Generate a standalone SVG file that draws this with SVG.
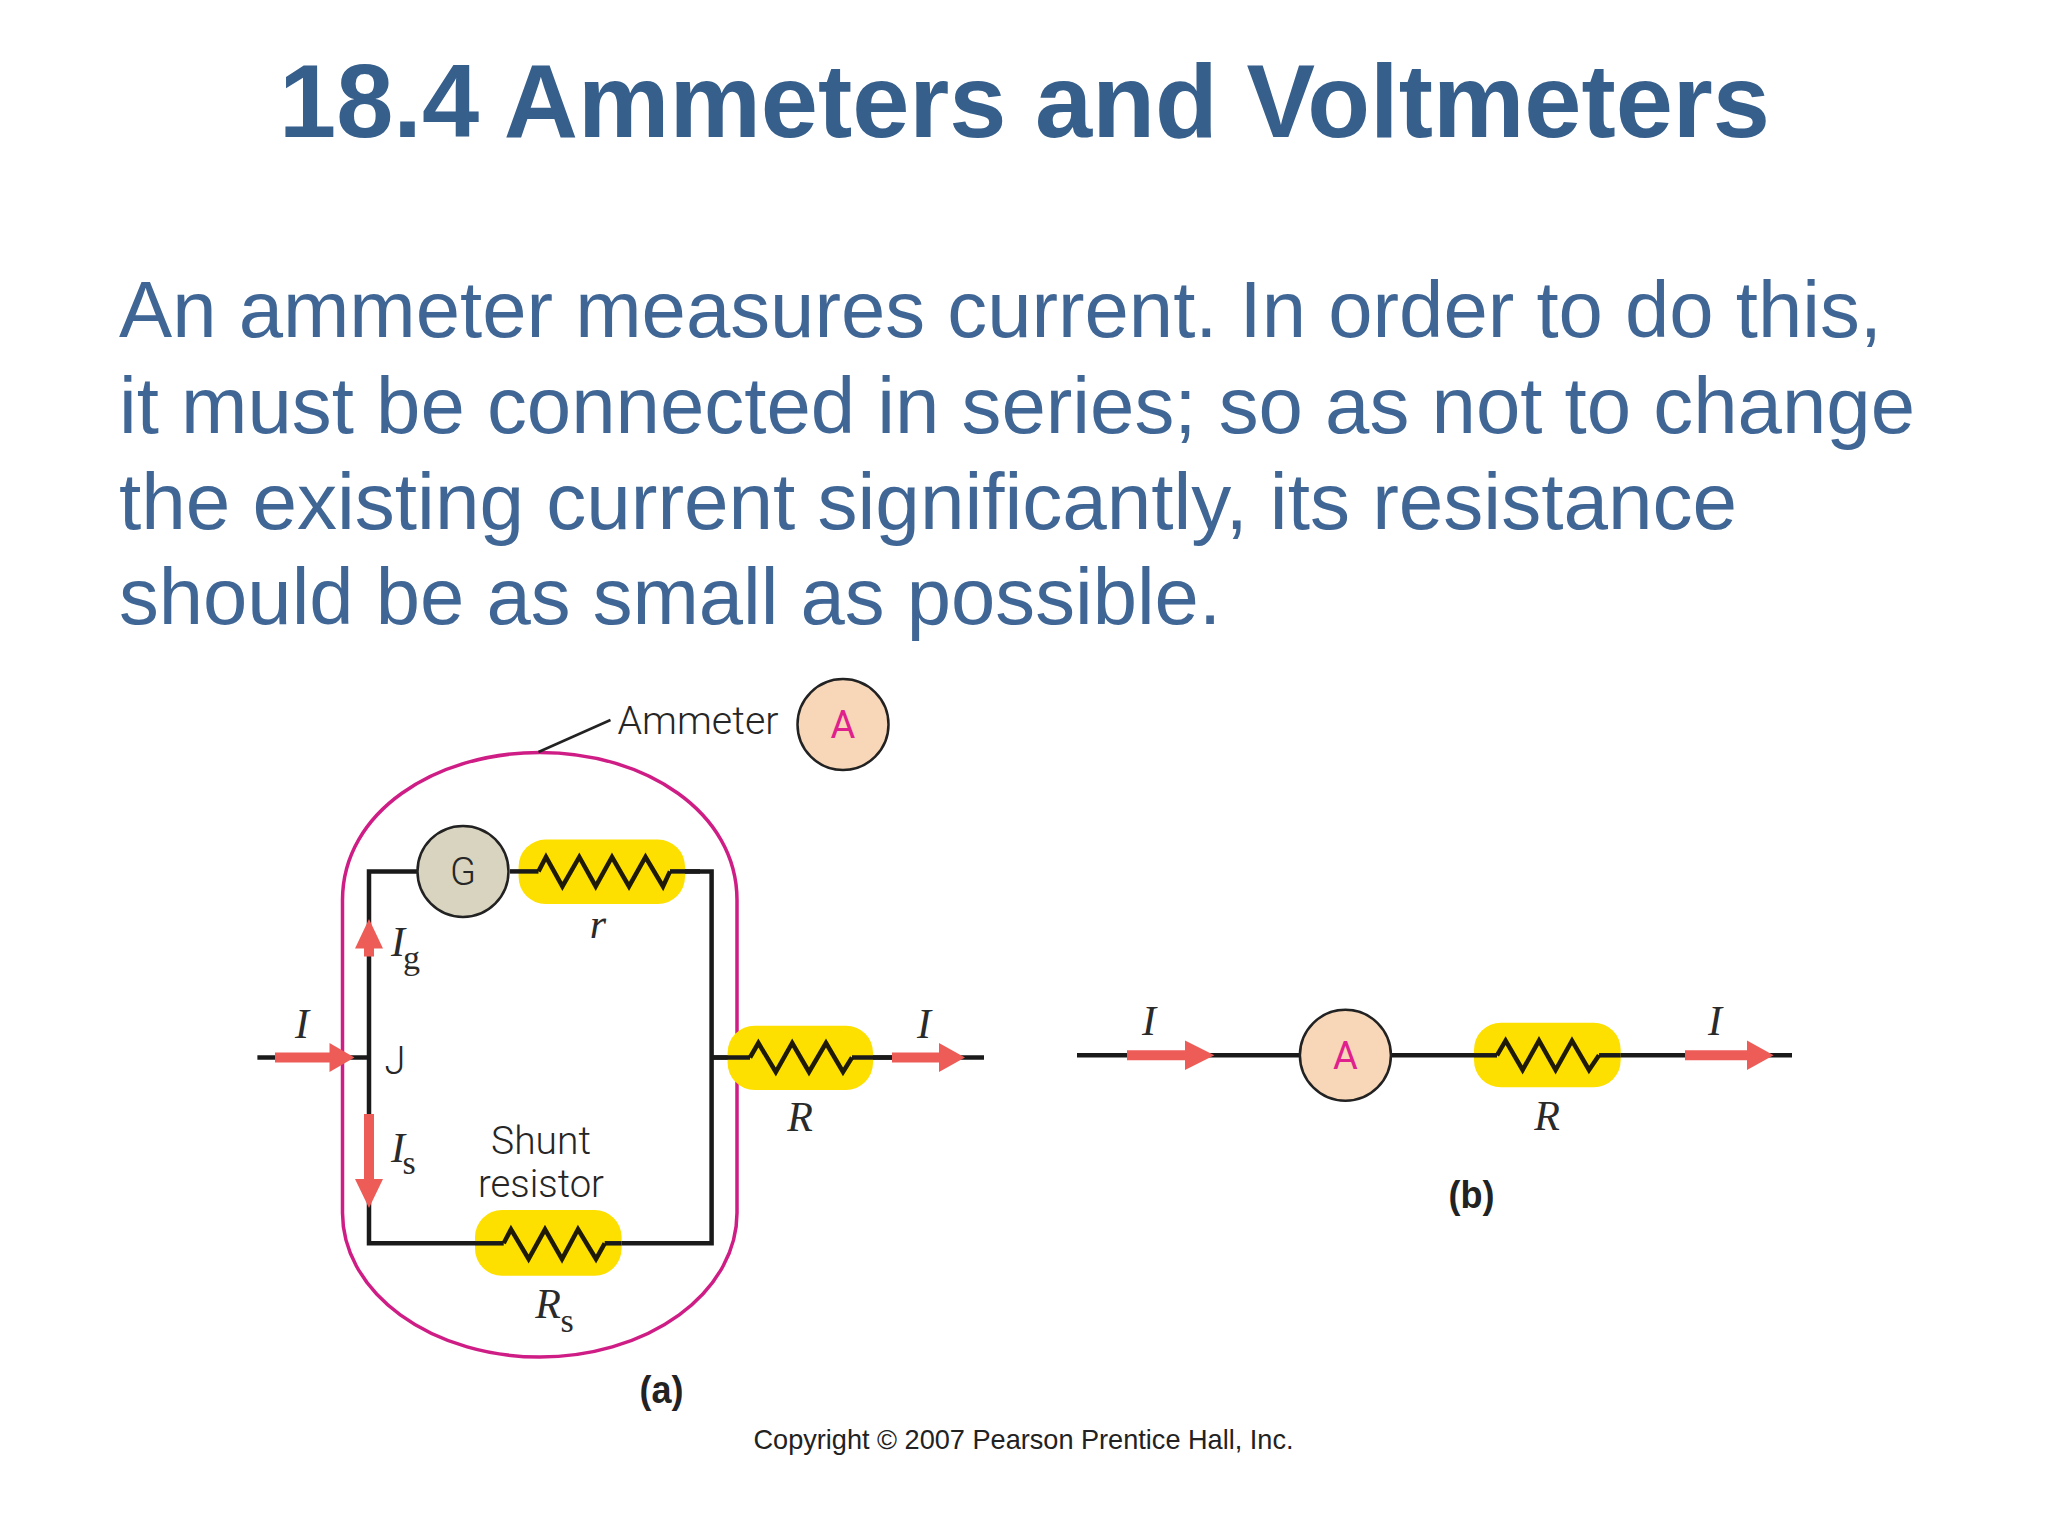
<svg xmlns="http://www.w3.org/2000/svg" width="2048" height="1536" viewBox="0 0 2048 1536">
<style>
.title{font:bold 103px "Liberation Sans",Arial,sans-serif;fill:#365f8c}
.body{font:80px "Liberation Sans",Arial,sans-serif;fill:#3f6695}
.wire{fill:none;stroke:#1a1a1a;stroke-width:4.5;stroke-linejoin:miter}
.zig{fill:none;stroke:#1f1a05;stroke-width:4.5;stroke-linejoin:miter}
.res{fill:#fddf00}
.outline{fill:none;stroke:#cf1d86;stroke-width:3.5}
.meter{stroke:#222;stroke-width:2.5}
.arrow{fill:#ee5c58}
.sans{font-family:Roboto,"Liberation Sans",Arial,sans-serif;font-weight:300;font-size:38px;fill:#262626;text-anchor:middle}
.pink{font-family:Roboto,"Liberation Sans",Arial,sans-serif;font-weight:400;font-size:38px;fill:#e0208c;text-anchor:middle}
.it{font-family:"Liberation Serif","Times New Roman",serif;font-style:italic;font-size:42px;fill:#2a2a2a;text-anchor:middle}
.sub{font-family:"Liberation Serif","Times New Roman",serif;font-size:34px;fill:#2a2a2a;text-anchor:middle}
.cap{font-family:"Liberation Sans",Arial,sans-serif;font-weight:bold;font-size:38px;fill:#222;text-anchor:middle}
.copy{font-family:"Liberation Sans",Arial,sans-serif;font-size:28px;fill:#222}
</style>
<rect width="2048" height="1536" fill="#fff"/>
<g id="heading">
<text class="title" x="279" y="137" textLength="1491" lengthAdjust="spacingAndGlyphs">18.4 Ammeters and Voltmeters</text>
<text class="body" x="119" y="337" textLength="1763" lengthAdjust="spacingAndGlyphs">An ammeter measures current. In order to do this,</text>
<text class="body" x="119" y="432.5" textLength="1796" lengthAdjust="spacingAndGlyphs">it must be connected in series; so as not to change</text>
<text class="body" x="119" y="529" textLength="1618" lengthAdjust="spacingAndGlyphs">the existing current significantly, its resistance</text>
<text class="body" x="119" y="624" textLength="1102" lengthAdjust="spacingAndGlyphs">should be as small as possible.</text>
</g>
<g id="ammeter-boundary">
<path class="outline" d="M342.5,900 C342.5,812 435,752.5 540,752.5 C645,752.5 737,812 737,900 V1213 A197.25,144 0 0 1 342.5,1213 Z"/>
<path d="M538.5,752 L610.5,720" fill="none" stroke="#222" stroke-width="2.5"/>
<text class="sans" x="698" y="734" textLength="161" lengthAdjust="spacingAndGlyphs">Ammeter</text>
</g>
<g id="connectors">
<path class="wire" d="M440,871.4 H369 V1243.3 H711.6 V871.4 H640"/>
<path class="wire" d="M257.4,1057.5 H369"/>
<path class="wire" d="M711.6,1057.5 H984"/>
<path class="wire" d="M1077,1055.3 H1792"/>
</g>
<g id="a-legend-meter">
<circle class="meter" cx="843" cy="724.5" r="45.5" fill="#f8d7b8"/>
<text class="pink" x="843" y="738">A</text>
</g>
<g id="galvanometer">
<circle class="meter" cx="463" cy="871.4" r="45.5" fill="#d8d4bf"/>
<text class="sans" x="463" y="884.5">G</text>
</g>
<g id="resistor-r">
<rect class="res" x="518.6" y="839.6" width="166.4" height="64.4" rx="27"/>
<path class="wire" d="M510,871.4 H538.5"/>
<path class="wire" d="M670,871.4 H700"/>
<polyline class="zig" points="538.5,871.4 546,857 562.4,886.4 579.3,857 595.7,886.4 612,857 629,886.4 645.5,857 663,886.4 670,871.4"/>
<text class="it" x="598" y="938">r</text>
</g>
<g id="resistor-R-a">
<rect class="res" x="727.6" y="1025.7" width="145.4" height="64.3" rx="27"/>
<path class="wire" d="M712,1057.5 H750"/>
<path class="wire" d="M852,1057.5 H892"/>
<polyline class="zig" points="750,1057.5 758.4,1043 775.8,1072 792.2,1043 809,1072 826,1043 843,1072 852,1057.5"/>
<text class="it" x="800" y="1131">R</text>
</g>
<g id="resistor-Rs">
<rect class="res" x="475" y="1210" width="146.6" height="65.7" rx="27"/>
<path class="wire" d="M475,1243.3 H503.7"/>
<path class="wire" d="M604.7,1243.3 H621.6"/>
<polyline class="zig" points="503.7,1243.3 511,1229.3 528.6,1259 545,1229.3 562,1259 578,1229.3 596,1259 604.7,1243.3"/>
<text class="it" x="548" y="1318">R</text>
<text class="sub" x="567" y="1331.7">s</text>
</g>
<g id="a-meter-b">
<circle class="meter" cx="1345.4" cy="1055.3" r="45.5" fill="#f8d7b8"/>
<text class="pink" x="1345.4" y="1068.7">A</text>
</g>
<g id="resistor-R-b">
<rect class="res" x="1474" y="1022.7" width="146.7" height="64.6" rx="27"/>
<path class="wire" d="M1474,1055.3 H1497"/>
<path class="wire" d="M1599,1055.3 H1620.7"/>
<polyline class="zig" points="1497,1055.3 1505.6,1040.7 1522.6,1070 1539,1040.7 1555.6,1070 1572,1040.7 1589,1070 1599,1055.3"/>
<text class="it" x="1547" y="1130">R</text>
</g>
<g id="current-arrows">
<path class="arrow" d="M275,1052.5 H329.5 V1043 L354.5,1057.5 L329.5,1072 V1062.5 H275 Z"/>
<path class="arrow" d="M892,1052.5 H939 V1043 L965,1057.5 L939,1072 V1062.5 H892 Z"/>
<path class="arrow" d="M364,956.4 V948.6 H355 L369,919 L383,948.6 H374 V956.4 Z"/>
<path class="arrow" d="M364,1114 V1179 H355 L369,1208 L383,1179 H374 V1114 Z"/>
<path class="arrow" d="M1127,1050.3 H1185 V1040.5 L1214.4,1055.3 L1185,1070 V1060.3 H1127 Z"/>
<path class="arrow" d="M1685,1050.3 H1747 V1040.5 L1773.6,1055.3 L1747,1070 V1060.3 H1685 Z"/>
</g>
<g id="labels">
<text class="it" x="302" y="1037.5">I</text>
<text class="it" x="924" y="1037.5">I</text>
<text class="it" x="398" y="956">I</text>
<text class="sub" x="411.6" y="969">g</text>
<text class="sans" x="395" y="1073.5">J</text>
<text class="it" x="398" y="1162">I</text>
<text class="sub" x="409" y="1173.6">s</text>
<text class="sans" x="541" y="1154" textLength="100" lengthAdjust="spacingAndGlyphs">Shunt</text>
<text class="sans" x="541" y="1197" textLength="126" lengthAdjust="spacingAndGlyphs">resistor</text>
<text class="cap" x="661.4" y="1403" textLength="44" lengthAdjust="spacingAndGlyphs">(a)</text>
<text class="it" x="1149" y="1035">I</text>
<text class="it" x="1715" y="1035">I</text>
<text class="cap" x="1471.6" y="1208" textLength="46" lengthAdjust="spacingAndGlyphs">(b)</text>
<text class="copy" x="753.5" y="1449" textLength="540" lengthAdjust="spacingAndGlyphs">Copyright © 2007 Pearson Prentice Hall, Inc.</text>
</g>
</svg>
